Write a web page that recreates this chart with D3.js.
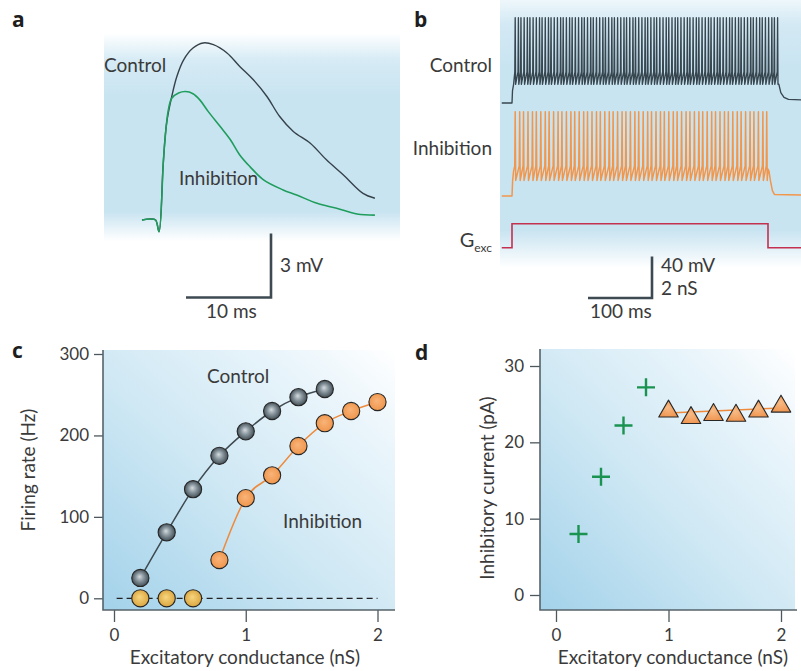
<!DOCTYPE html>
<html><head><meta charset="utf-8">
<script src="https://cdn.jsdelivr.net/npm/d3@7"></script>
<style>
body{margin:0;background:#fff}
svg{display:block}
text{font-family:Lato,"Open Sans",sans-serif;fill:#3a3a3a}
.plabel{font-family:"Open Sans",Lato,sans-serif;font-weight:bold;fill:#1e1e1e;font-size:21px}
</style>
</head><body>
<svg id="fig" width="801" height="671"></svg>
<script>
// ---------- Panel a : EPSP traces (ms, mV) ----------
const aCtrlT = [0,1,1.6,2.0,2.5,2.9,3.5,4.1,4.9,6.0,7.2,8.4,10.0,11.5,13.1,14.7,16.2,17.8,19.8,21.7,23.7,26.0,27.4];
const aCtrlV = [0,0.05,0,-0.55,2.66,4.55,5.79,6.73,7.51,8.06,8.3,8.22,7.83,7.2,6.57,5.79,4.85,4.15,3.6,2.82,2.11,1.25,1.02];
const aInhT  = [0,1,1.6,2.0,2.5,2.7,3.1,3.5,4.3,5.1,6.0,6.8,7.8,9.2,10.4,11.5,12.7,14.3,16.6,18.2,20.6,22.9,25.3,27.4];
const aInhV  = [0,0.05,0,-0.55,2.66,3.76,5.16,5.71,5.95,6.02,5.92,5.63,5.08,4.38,3.76,3.05,2.5,1.88,1.41,1.17,0.78,0.55,0.28,0.23];

// ---------- Panel b : spike trains (ms) ----------
const bCtrlSpikes = [5,10,14,19,24,28,33,38,43,47,52,57,61,66,71,76,80,85,90,94,99,104,109,113,118,123,127,132,137,142,146,151,156,160,165,170,175,179,184,189,193,198,203,208,212,217,222,226,231,236,241,245,250,255,259,264,269,274,278,283,288,292,297,302,307,311,316,321,325,330,335,340,344,349,354,358,363,368,373,377,382,387,391,396,401,406,410,415];
const bInhSpikes = [5,12,18,25,32,38,45,52,58,65,72,78,85,92,98,105,112,118,125,132,138,145,152,158,165,172,178,185,192,198,205,212,218,225,232,238,245,252,258,265,272,278,285,292,298,305,312,318,325,332,338,345,352,358,365,372,378,385,392,398];
const bCtrlOnsetT = [-16,0,0.8,2.5], bCtrlOnsetV = [0,0,12,18];
const bCtrlTailT = [417,420,425,432,452], bCtrlTailV = [18,10,5.5,3.5,3];
const bInhOnsetT = [-16,0,1,2.5], bInhOnsetV = [0,0,15,24];
const bInhTailT = [400,401.5,404,407,410,452], bInhTailV = [26,24,14,5,1.5,1];
const bGexcT = [-16,0,0,400,400,452], bGexcG = [0,0,1.15,1.15,0,0];

// ---------- Panel c : firing rate ----------
const cControlX = [0.2,0.4,0.6,0.8,1.0,1.2,1.4,1.6];
const cControlY = [25,81,134,175,205,230,247,257];
const cInhX = [0.8,1.0,1.2,1.4,1.6,1.8,2.0];
const cInhY = [47,123,151,187,215,230,241];
const cZeroX = [0.2,0.4,0.6];
const cZeroY = [0,0,0];
const cXTicks = [0,1,2], cYTicks = [0,100,200,300];

// ---------- Panel d : inhibitory current ----------
const dCrossX = [0.2,0.4,0.6,0.8];
const dCrossY = [8,15.5,22.2,27.2];
const dTriX = [1.0,1.2,1.4,1.6,1.8,2.0];
const dTriY = [24.05,23.2,23.6,23.5,24.05,24.7];
const dFitX = [1.0,2.0], dFitY = [23.85,24.5];
const dXTicks = [0,1,2], dYTicks = [0,10,20,30];

const svg = d3.select('#fig');
const defs = svg.append('defs');
const FS = 19;

function vGrad(id, stops){
  const g = defs.append('linearGradient').attr('id',id).attr('x1',0).attr('y1',0).attr('x2',0).attr('y2',1);
  stops.forEach(s=>g.append('stop').attr('offset',s[0]).attr('stop-color',s[1]));
}
vGrad('bgA',[[0,'#ffffff'],[0.13,'#d6ebf5'],[0.3,'#c9e4f1'],[0.86,'#c9e4f1'],[1,'#ffffff']]);
vGrad('bgB',[[0,'#eef7fb'],[0.09,'#d3e9f4'],[0.25,'#c9e4f1'],[0.86,'#c9e4f1'],[1,'#ffffff']]);
const dg = defs.append('linearGradient').attr('id','bgCD').attr('x1',0).attr('y1',1).attr('x2',1).attr('y2',0);
[[0,'#a3d2ea'],[0.45,'#cfe8f4'],[0.8,'#eaf5fb'],[1,'#ffffff']].forEach(s=>dg.append('stop').attr('offset',s[0]).attr('stop-color',s[1]));
function rGrad(id, stops){
  const g = defs.append('radialGradient').attr('id',id).attr('cx','50%').attr('cy','50%').attr('r','55%').attr('fx','45%').attr('fy','42%');
  stops.forEach(s=>g.append('stop').attr('offset',s[0]).attr('stop-color',s[1]));
}
rGrad('sphGray',[[0,'#d3dbdf'],[0.45,'#86939a'],[1,'#38434a']]);
rGrad('sphGold',[[0,'#f7d680'],[1,'#d9a23a']]);
rGrad('sphOrange',[[0,'#f9b47a'],[1,'#ef9449']]);
rGrad('triOrange',[[0,'#f8bb86'],[1,'#ef9550']]);

const line = (xs, ys) => d3.line().x(d=>xs(d[0])).y(d=>ys(d[1]));
const zip = (a,b) => a.map((v,i)=>[v,b[i]]);

// ================= Panel a =================
svg.append('rect').attr('x',104).attr('y',33).attr('width',296).attr('height',208).attr('fill','url(#bgA)');
const xa = d3.scaleLinear().domain([0,10]).range([142,227]);
const ya = d3.scaleLinear().domain([0,3]).range([220,156]);
svg.append('path').datum(zip(aCtrlT,aCtrlV)).attr('d',line(xa,ya).curve(d3.curveCatmullRom.alpha(0.5)))
  .attr('fill','none').attr('stroke','#36424a').attr('stroke-width',1.4);
svg.append('path').datum(zip(aInhT,aInhV)).attr('d',line(xa,ya).curve(d3.curveCatmullRom.alpha(0.5)))
  .attr('fill','none').attr('stroke','#1f9d5c').attr('stroke-width',1.6);
svg.append('text').attr('x',104).attr('y',72).attr('font-size',FS).text('Control');
svg.append('text').attr('x',179).attr('y',185).attr('font-size',FS).text('Inhibition');
{
  const bx = 271, by = 297.5;
  const w = xa(10)-xa(0), h = ya(0)-ya(3);
  svg.append('path').attr('d',`M${bx-w},${by}H${bx}V${by-h}`).attr('fill','none').attr('stroke','#3d4a52').attr('stroke-width',2.6);
  svg.append('text').attr('x',280).attr('y',272).attr('font-size',FS).text('3 mV');
  svg.append('text').attr('x',206).attr('y',318).attr('font-size',FS).text('10 ms');
}
svg.append('text').attr('class','plabel').attr('x',12).attr('y',27).text('a');

// ================= Panel b =================
svg.append('rect').attr('x',500).attr('y',0).attr('width',301).attr('height',268).attr('fill','url(#bgB)');
const xb = d3.scaleLinear().domain([0,100]).range([512,576]);
const ybC = d3.scaleLinear().domain([0,40]).range([103,61.4]);
const ybI = d3.scaleLinear().domain([0,40]).range([196,154.4]);
const ybG = d3.scaleLinear().domain([0,2]).range([247.7,206.1]);

function spikeTrain(onT,onV,spikes,tailT,tailV,thr,peak,trough,up,down){
  const pts = zip(onT,onV);
  spikes.forEach(s=>{ pts.push([s-up,thr]); pts.push([s,peak]); pts.push([s+down,trough]); });
  return pts.concat(zip(tailT,tailV));
}
const ctrlPts = spikeTrain(bCtrlOnsetT,bCtrlOnsetV,bCtrlSpikes,bCtrlTailT,bCtrlTailV,30,82,18,0.6,0.6);
const inhPts = spikeTrain(bInhOnsetT,bInhOnsetV,bInhSpikes,bInhTailT,bInhTailV,29,81,15,0.7,0.8);
svg.append('path').datum(ctrlPts).attr('d',line(xb,ybC)).attr('fill','none').attr('stroke','#37464f').attr('stroke-width',1.35).attr('stroke-linejoin','round');
svg.append('path').datum(inhPts).attr('d',line(xb,ybI)).attr('fill','none').attr('stroke','#f2964b').attr('stroke-width',1.5).attr('stroke-linejoin','round');
svg.append('path').datum(zip(bGexcT,bGexcG)).attr('d',line(xb,ybG)).attr('fill','none').attr('stroke','#c4304f').attr('stroke-width',1.6);

svg.append('text').attr('x',492).attr('y',72).attr('font-size',FS).attr('text-anchor','end').text('Control');
svg.append('text').attr('x',492).attr('y',155).attr('font-size',FS).attr('text-anchor','end').text('Inhibition');
{
  const t = svg.append('text').attr('x',492).attr('y',247).attr('font-size',20).attr('text-anchor','end');
  t.append('tspan').text('G');
  t.append('tspan').attr('font-size',12).attr('dy',5).text('exc');
}
{
  const bx = 652, by = 298;
  const w = xb(100)-xb(0), h = ybC(0)-ybC(40);
  svg.append('path').attr('d',`M${bx-w},${by}H${bx}V${by-h}`).attr('fill','none').attr('stroke','#3d4a52').attr('stroke-width',2.6);
  svg.append('text').attr('x',661).attr('y',272).attr('font-size',FS).text('40 mV');
  svg.append('text').attr('x',661).attr('y',295).attr('font-size',FS).text('2 nS');
  svg.append('text').attr('x',590).attr('y',318).attr('font-size',FS).text('100 ms');
}
svg.append('text').attr('class','plabel').attr('x',414).attr('y',27).text('b');

// ================= Panel c =================
const xc = d3.scaleLinear().domain([0,2]).range([114,377.5]);
const yc = d3.scaleLinear().domain([0,300]).range([598.3,354]);
svg.append('rect').attr('x',103).attr('y',350).attr('width',292).attr('height',260).attr('fill','url(#bgCD)');
function styleAxis(g){
  g.select('.domain').remove();
  g.selectAll('line').attr('stroke','#4d585e').attr('stroke-width',1.3);
  g.selectAll('text').attr('font-size',17).attr('fill','#3a3a3a').attr('font-family','Lato,"Open Sans",sans-serif');
}
const fmt = d3.format('d');
svg.append('g').attr('transform','translate(103,0)')
  .call(d3.axisLeft(yc).tickValues(cYTicks).tickFormat(fmt).tickSize(9).tickPadding(5)).call(styleAxis);
svg.append('g').attr('transform','translate(0,610)')
  .call(d3.axisBottom(xc).tickValues(cXTicks).tickFormat(fmt).tickSize(12).tickPadding(7)).call(styleAxis);
svg.append('path').attr('d','M103,350V610H395').attr('fill','none').attr('stroke','#56636a').attr('stroke-width',1.6);
svg.append('line').attr('x1',xc(0.02)).attr('x2',xc(2)).attr('y1',yc(0)).attr('y2',yc(0))
  .attr('stroke','#222').attr('stroke-width',1.3).attr('stroke-dasharray','6,4');
svg.append('path').datum(zip(cControlX,cControlY)).attr('d',line(xc,yc).curve(d3.curveMonotoneX))
  .attr('fill','none').attr('stroke','#3e4950').attr('stroke-width',1.5);
svg.append('path').datum(zip(cInhX,cInhY)).attr('d',line(xc,yc).curve(d3.curveMonotoneX))
  .attr('fill','none').attr('stroke','#ee8a3c').attr('stroke-width',1.5);
function dots(xs,ys,fill){
  svg.append('g').selectAll('circle').data(zip(xs,ys)).join('circle')
    .attr('cx',d=>xc(d[0])).attr('cy',d=>yc(d[1])).attr('r',8.6)
    .attr('fill',fill).attr('stroke','#262626').attr('stroke-width',1.1);
}
dots(cControlX,cControlY,'url(#sphGray)');
dots(cInhX,cInhY,'url(#sphOrange)');
dots(cZeroX,cZeroY,'url(#sphGold)');
svg.append('text').attr('x',207).attr('y',383).attr('font-size',FS).text('Control');
svg.append('text').attr('x',283).attr('y',528).attr('font-size',FS).text('Inhibition');
svg.append('text').attr('x',245).attr('y',664).attr('font-size',FS).attr('text-anchor','middle').text('Excitatory conductance (nS)');
svg.append('text').attr('transform','translate(35,470) rotate(-90)').attr('font-size',FS).attr('text-anchor','middle').text('Firing rate (Hz)');
svg.append('text').attr('class','plabel').attr('x',12).attr('y',358).text('c');

// ================= Panel d =================
const xd = d3.scaleLinear().domain([0,2]).range([556,781]);
const yd = d3.scaleLinear().domain([0,30]).range([595,366]);
svg.append('rect').attr('x',540).attr('y',349).attr('width',255).attr('height',261).attr('fill','url(#bgCD)');
svg.append('g').attr('transform','translate(540,0)')
  .call(d3.axisLeft(yd).tickValues(dYTicks).tickFormat(fmt).tickSize(10).tickPadding(6)).call(styleAxis);
svg.append('g').attr('transform','translate(0,610)')
  .call(d3.axisBottom(xd).tickValues(dXTicks).tickFormat(fmt).tickSize(12).tickPadding(7)).call(styleAxis);
svg.append('path').attr('d','M540,349V610H797').attr('fill','none').attr('stroke','#56636a').attr('stroke-width',1.6);
svg.append('path').datum(zip(dFitX,dFitY)).attr('d',line(xd,yd))
  .attr('fill','none').attr('stroke','#ee8a3c').attr('stroke-width',1.6);
svg.append('g').selectAll('path').data(zip(dCrossX,dCrossY)).join('path')
  .attr('d',d=>{const x=xd(d[0]), y=yd(d[1]); return `M${x-9},${y}H${x+9}M${x},${y-9}V${y+9}`;})
  .attr('stroke','#1a9350').attr('stroke-width',2.4).attr('fill','none');
svg.append('g').selectAll('path').data(zip(dTriX,dTriY)).join('path')
  .attr('transform',d=>`translate(${xd(d[0])},${yd(d[1])})`)
  .attr('d',d3.symbol().type(d3.symbolTriangle).size(165))
  .attr('fill','url(#triOrange)').attr('stroke','#262626').attr('stroke-width',1.1).attr('stroke-linejoin','round');
svg.append('text').attr('x',673).attr('y',664).attr('font-size',FS).attr('text-anchor','middle').text('Excitatory conductance (nS)');
svg.append('text').attr('transform','translate(494,488) rotate(-90)').attr('font-size',FS).attr('text-anchor','middle').text('Inhibitory current (pA)');
svg.append('text').attr('class','plabel').attr('x',415).attr('y',360).text('d');
</script>
</body></html>
